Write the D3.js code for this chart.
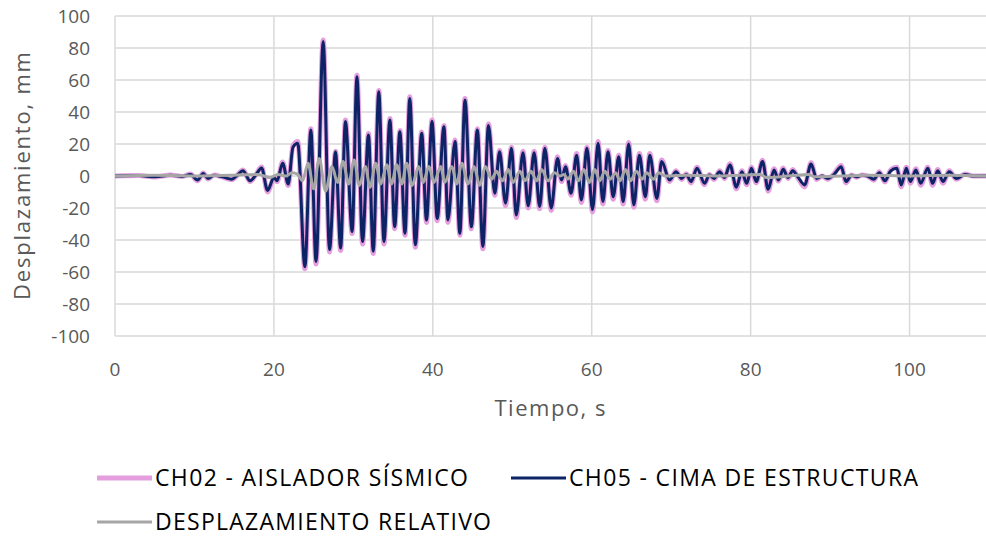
<!DOCTYPE html>
<html>
<head>
<meta charset="utf-8">
<script src="https://cdn.jsdelivr.net/npm/d3@7"></script>
<style>
  body { margin: 0; background: #fff; }
  svg text { font-family: "Open Sans", Roboto, sans-serif; }
</style>
</head>
<body>
<div id="grafico"></div>
<script>
var tiempo = [0, 3, 5, 7, 8.5, 9.5, 10.4, 11.1, 11.7, 12.5, 13.5, 14.7, 15.4, 16.1, 17.0, 17.7, 18.45, 19.2, 20.0, 20.4,
  21.1, 21.8, 22.4, 23.0, 23.9, 24.65, 25.3, 26.2, 27.0, 27.75, 28.4, 29.0, 29.85, 30.45, 31.15, 31.9, 32.5, 33.2, 33.85, 34.6,
  35.2, 35.85, 36.5, 37.1, 37.8, 38.6, 39.2, 39.9, 40.55, 41.4, 41.9, 42.8, 43.4, 44.05, 44.85, 45.6, 46.3, 47.0, 47.8, 48.4,
  49.15, 49.9, 50.5, 51.35, 52.0, 52.75, 53.45, 54.1, 54.9, 55.7, 56.2, 56.7, 57.4, 58.1, 58.7, 59.4, 60.1, 60.8, 61.4, 62.05,
  62.7, 63.4, 63.95, 64.65, 65.3, 66.0, 66.75, 67.3, 68.2, 68.8, 69.8, 70.6, 71.3, 71.9, 72.5, 73.25, 74.2, 74.8, 75.4, 76.1,
  76.7, 77.4, 78.2, 78.9, 79.5, 80.1, 80.7, 81.5, 82.2, 82.95, 83.5, 84.1, 84.7, 85.3, 86.0, 86.8, 87.6, 88.3, 89.0, 89.7,
  90.5, 91.4, 92.0, 92.7, 93.3, 94.0, 94.7, 95.5, 96.2, 96.9, 97.6, 98.4, 98.95, 99.6, 100.1, 100.8, 101.4, 102.3, 102.9, 103.55,
  104.2, 105.0, 105.9, 107.0, 108.0, 110.0];

var ch05 = [0, 0.3, -0.5, 0.5, -0.3, 1, -2.5, 1.5, -1.5, 0.5, -0.5, -2, 0.5, 3.3, -3, 0.5, 5, -9, -1, -3,
  8, -5, 18, 20.4, -56.7, 28.8, -53.5, 84, -46, 15, -45, 34, -34.8, 62, -41, 25.6, -47, 52.7, -41, 35,
  -31.7, 27.7, -35.8, 48.5, -43, 26.7, -27.5, 34, -26.5, 30.8, -27.5, 21.5, -35.8, 47.5, -31.7, 28.8, -44, 31.5, -10.8, 15.2,
  -17, 17.3, -24.4, 14.6, -18.75, 14.6, -19, 17.3, -20, 11, -2.5, 5.8, -10.8, 13, -15, 17.3, -21, 20.4, -16, 15.2,
  -13, 12, -16, 20, -18, 13, -13, 13, -14, 9, -2.5, 2.7, -1.5, 1, -3.5, 4.8, -4.6, 0.6, -1.5, 2.7,
  -1, 6.9, -7, 2.7, -4.6, 4.8, -3.5, 9, -8.3, 3.75, -2.5, 4.2, -1, 3.3, -1, -5.6, 7.5, -1.5, 0, -1.5,
  1, 5.8, -3.5, 0.5, -0.5, 0.5, 0, -2, 2, -3, 3, 4.8, -5.6, 4.8, -3.5, 3.75, -4.6, 4.8, -4.6, 3.3,
  -3.5, 2.7, -1.5, 1, 0, 0];

var ch02 = [0, 0.3, -0.6, 0.6, -0.3, 1.2, -3, 1.8, -1.8, 0.6, -0.6, -2.4, 0.6, 3.8, -3.5, 0.6, 5.6, -10, -1.5, -3.5,
  8.8, -6, 19, 21.5, -58, 29.5, -55, 85, -47.5, 15.5, -46.5, 35, -36, 63, -42.5, 26.5, -48.5, 53.5, -42.5, 36,
  -33, 28.5, -37, 49.5, -44.5, 27.5, -29, 35, -28, 31.5, -29, 22.5, -37, 48.5, -33, 29.5, -45.5, 32.5, -12, 16,
  -18.5, 18, -26, 15.5, -20, 15.5, -20.5, 18, -21.5, 12, -3.5, 6.5, -12, 14, -16.5, 18, -22.5, 21.5, -17.5, 16,
  -14.5, 13, -17.5, 21, -19.5, 14, -14.5, 14, -15.5, 10, -3.5, 3.3, -2.2, 1.4, -4.3, 5.5, -5.5, 1, -2.2, 3.3,
  -1.6, 7.6, -8, 3.3, -5.5, 5.5, -4.3, 9.8, -9.5, 4.5, -3.2, 5, -1.6, 4, -1.6, -6.8, 8.3, -2.2, 0, -2,
  1.4, 6.5, -4.3, 0.7, -0.8, 0.7, 0, -2.6, 2.6, -3.8, 3.6, 5.5, -6.8, 5.5, -4.5, 4.5, -5.8, 5.5, -5.8, 4,
  -4.5, 3.3, -2, 1.2, 0, 0];

// desplazamiento relativo, con sus propios tiempos
var tiempoRel = [0, 5, 10, 15, 18, 19.5, 20.5, 21.5, 22.3, 23.0, 23.6, 24.3, 25.0, 25.7, 26.5, 27.3, 28.0, 28.7, 29.4, 30.1,
  30.75, 31.5, 32.1, 32.8, 33.45, 34.2, 34.8, 35.45, 36.1, 36.7, 37.4, 38.2, 38.8, 39.5, 40.15, 41.0, 41.5, 42.4, 43.0, 43.65,
  44.45, 45.2, 45.9, 46.6, 47.4, 48.0, 48.75, 49.5, 50.1, 50.95, 51.6, 52.35, 53.05, 53.7, 54.5, 55.3, 56.0, 56.5, 57.0, 57.7,
  58.3, 59.0, 59.7, 60.4, 61.0, 61.65, 62.3, 63.0, 63.55, 64.25, 64.9, 65.6, 66.35, 66.9, 67.8, 68.4, 69.3, 72, 76, 81.2,
  82, 87.3, 88, 95, 100, 105, 110];

var relativo = [0, 0.5, 0, 0.5, 1, -1, 1, 0, 2, 1, -3, 8, -8, 11, -9.5, 6, -4, 9, -5, 10,
  -6, 6, -7, 8, -5, 7, -5, 7, -5, 8, -6, 6, -4, 6, -4, 6, -4, 6, -5, 8,
  -5, 6, -6, 6, -2, 3, -3, 4, -4, 3, -3, 3, -3, 4, -3, 2, 0, 1, -2, 3,
  -3, 4, -4, 4, -3, 3, -2, 2, -3, 4, -3, 3, -2, 2, -2, 2, 0, 0.5, 0, 1,
  -1, 1, -0.5, 0.5, 0, 0.5, 0];

var ticksX = [0, 20, 40, 60, 80, 100];
var ticksY = [-100, -80, -60, -40, -20, 0, 20, 40, 60, 80, 100];

var series = [
  {nombre: "CH02 - AISLADOR SÍSMICO", t: tiempo, v: ch02, color: "#e59edd", ancho: 5},
  {nombre: "CH05 - CIMA DE ESTRUCTURA", t: tiempo, v: ch05, color: "#0c2466", ancho: 3},
  {nombre: "DESPLAZAMIENTO RELATIVO", t: tiempoRel, v: relativo, color: "#a6a6a6", ancho: 3}
];

var svg = d3.select("#grafico").append("svg")
    .attr("width", 986)
    .attr("height", 540);

var margin = {top: 16, left: 115, bottom: 204};
var x = d3.scaleLinear().domain([0, 110]).range([margin.left, 989]);
var y = d3.scaleLinear().domain([-100, 100]).range([540 - margin.bottom, margin.top]);

// rejilla
svg.append("g")
    .selectAll("line")
    .data(ticksY)
    .enter()
    .append("line")
    .attr("x1", margin.left)
    .attr("x2", 986)
    .attr("y1", function (d) { return y(d); })
    .attr("y2", function (d) { return y(d); })
    .attr("stroke", "#d9d9d9")
    .attr("stroke-width", 1.5);

svg.append("g")
    .selectAll("line")
    .data(ticksX)
    .enter()
    .append("line")
    .attr("x1", function (d) { return x(d); })
    .attr("x2", function (d) { return x(d); })
    .attr("y1", y(100))
    .attr("y2", y(-100))
    .attr("stroke", "#d9d9d9")
    .attr("stroke-width", 1.5);

// etiquetas de ejes
svg.append("g")
    .selectAll("text")
    .data(ticksY)
    .enter()
    .append("text")
    .attr("x", 90)
    .attr("y", function (d) { return y(d); })
    .attr("dy", "0.35em")
    .attr("text-anchor", "end")
    .attr("font-size", 19)
    .attr("fill", "#595959")
    .text(function (d) { return d; });

svg.append("g")
    .selectAll("text")
    .data(ticksX)
    .enter()
    .append("text")
    .attr("x", function (d) { return x(d); })
    .attr("y", 369)
    .attr("dy", "0.35em")
    .attr("text-anchor", "middle")
    .attr("font-size", 19)
    .attr("fill", "#595959")
    .text(function (d) { return d; });

svg.append("text")
    .attr("x", 550)
    .attr("y", 408)
    .attr("dy", "0.35em")
    .attr("text-anchor", "middle")
    .attr("font-size", 22)
    .attr("textLength", 111)
    .attr("fill", "#595959")
    .text("Tiempo, s");

svg.append("text")
    .attr("transform", "translate(22," + y(0) + ") rotate(-90)")
    .attr("dy", "0.35em")
    .attr("text-anchor", "middle")
    .attr("font-size", 22)
    .attr("textLength", 248)
    .attr("fill", "#595959")
    .text("Desplazamiento, mm");

// series
var line = d3.line()
    .x(function (d) { return x(d[0]); })
    .y(function (d) { return y(d[1]); })
    .curve(d3.curveMonotoneX);

series.forEach(function (s) {
    var puntos = s.t.map(function (t, i) { return [t, s.v[i]]; });
    svg.append("path")
        .datum(puntos)
        .attr("fill", "none")
        .attr("stroke", s.color)
        .attr("stroke-width", s.ancho)
        .attr("stroke-linejoin", "round")
        .attr("d", line);
});

// leyenda
var leyenda = [
  {s: series[0], x: 97, y: 478, largo: 313},
  {s: series[1], x: 511, y: 478, largo: 349},
  {s: series[2], x: 97, y: 522, largo: 336}
];
leyenda.forEach(function (l) {
    svg.append("line")
        .attr("x1", l.x)
        .attr("x2", l.x + 55)
        .attr("y1", l.y)
        .attr("y2", l.y)
        .attr("stroke", l.s.color)
        .attr("stroke-width", l.s.ancho);
    svg.append("text")
        .attr("x", l.x + 58)
        .attr("y", l.y)
        .attr("dy", "0.35em")
        .attr("font-size", 23)
        .attr("textLength", l.largo)
        .attr("fill", "#000")
        .text(l.s.nombre);
});
</script>
</body>
</html>
